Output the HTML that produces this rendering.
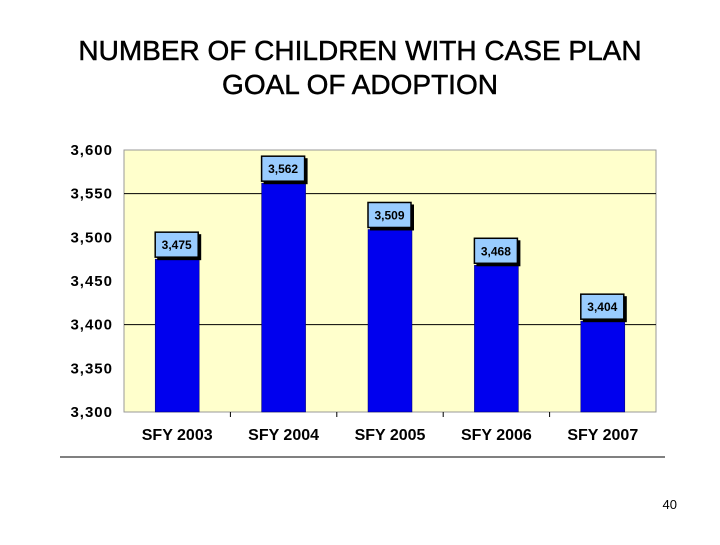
<!DOCTYPE html>
<html><head><meta charset="utf-8"><style>
body{margin:0;width:720px;height:540px;background:#fff;font-family:"Liberation Sans",Arial,sans-serif;overflow:hidden}
</style></head><body>
<svg width="720" height="540" font-family="Liberation Sans, Arial, sans-serif">
<text x="360" y="60" text-anchor="middle" font-size="28" stroke="#000" stroke-width="0.5">NUMBER OF CHILDREN WITH CASE PLAN</text>
<text x="360" y="94" text-anchor="middle" font-size="28" stroke="#000" stroke-width="0.5">GOAL OF ADOPTION</text>
<rect x="124" y="150" width="532" height="262" fill="#ffffcc" stroke="#999" stroke-width="1"/>
<g id="grid"></g><g id="bars"></g><g id="yt"></g><g id="xt"></g>
<line x1="60" y1="457" x2="665" y2="457" stroke="#000" stroke-width="1"/>
<text x="677" y="509" text-anchor="end" font-size="13">40</text>
</svg>
<script>
const categories=["SFY 2003","SFY 2004","SFY 2005","SFY 2006","SFY 2007"];
const values=[3475,3562,3509,3468,3404];
const valueLabels=["3,475","3,562","3,509","3,468","3,404"];
const yTicks=[3300,3350,3400,3450,3500,3550,3600];
const yTickLabels=["3,300","3,350","3,400","3,450","3,500","3,550","3,600"];
const gridValues=[3550,3400];
const NS="http://www.w3.org/2000/svg";
const L=124,R=656,T=150,B=412,ymin=3300,ymax=3600;
const y=v=>B-(v-ymin)/(ymax-ymin)*(B-T);
const band=(R-L)/categories.length;
const xc=i=>L+band*(i+0.5);
function mk(p,tag,a){const e=document.createElementNS(NS,tag);for(const k in a)e.setAttribute(k,a[k]);document.getElementById(p).appendChild(e);return e;}
gridValues.forEach(v=>{const e=mk('grid','line',{x1:L,x2:R,y1:y(v),y2:y(v),stroke:'#000','stroke-width':1});

});
yTicks.forEach((v,i)=>{const t=mk('yt','text',{x:113,y:y(v)+5,'text-anchor':'end','font-size':15,'font-weight':'bold','letter-spacing':1});t.textContent=yTickLabels[i];

});
categories.forEach((c,i)=>{
const t=mk('xt','text',{x:xc(i),y:440,'text-anchor':'middle','font-size':16,'font-weight':'bold'});t.textContent=c;


if(i>0){const tk=mk('xt','line',{x1:L+band*i,x2:L+band*i,y1:412,y2:417,stroke:'#000'});

}
const top=y(values[i]);
const b=mk('bars','rect',{x:xc(i)-22,y:top,width:44,height:B-top,fill:'#0000ee',stroke:'#000066','stroke-width':0.5});


const s=mk('bars','rect',{x:xc(i)-20,y:top-25,width:44,height:26,fill:'#000'});


const bx=mk('bars','rect',{x:xc(i)-22,y:top-27,width:43,height:25,fill:'#99ccff',stroke:'#000','stroke-width':1.5});


const vt=mk('bars','text',{x:xc(i)-0.5,y:top-10,'text-anchor':'middle','font-size':12,'font-weight':'bold'});vt.textContent=valueLabels[i];


});
</script>
</body></html>
